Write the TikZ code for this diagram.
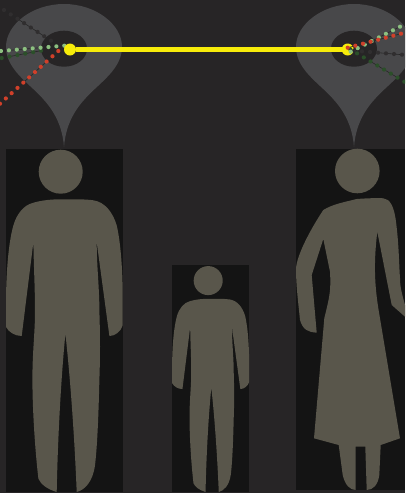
\documentclass[tikz,border=0pt]{standalone}
\usepackage{xcolor}
\usetikzlibrary{positioning, calc}
\definecolor{ground}{HTML}{272526}
\definecolor{pinfill}{HTML}{48484A}
\definecolor{slot}{HTML}{141414}
\definecolor{figure}{HTML}{59564B}
\definecolor{ray}{HTML}{F7EC0A}
\definecolor{redray}{HTML}{D0402A}
\definecolor{lightray}{HTML}{8CC080}
\definecolor{darkray}{HTML}{2B4F29}
\definecolor{greyray}{HTML}{302E2F}
% one dotted sight line: colour, far end, near end, number of gaps
\newcommand{\sightline}[4]{%
  \draw[sight] #2 -- #3;
  \foreach \k in {0,...,#4}{
    \fill[#1] ($#2!\k/#4!#3$) circle [radius=2.1];
  }
}
\begin{document}
\begin{tikzpicture}[
    x=1pt, y=-1pt,
    pinshape/.style={fill=pinfill},
    hole/.style={fill=ground},
    slotbox/.style={fill=slot},
    body/.style={fill=figure},
    sight/.style={draw=black!85, line width=0.6pt},
    hub/.style={circle, fill=ray, minimum size=12pt, inner sep=0pt},
    link/.style={draw=ray, line width=4.4pt},
    pin/.pic={
      \path[pinshape] (0,-44.7) .. controls (32,-44.7) and (58,-24) .. (58,-2)
        .. controls (58,16) and (44,28) .. (30,41)
        .. controls (14,56) and (2,72) .. (0,98.3)
        .. controls (-2,72) and (-14,56) .. (-30,41)
        .. controls (-44,28) and (-58,16) .. (-58,-2)
        .. controls (-58,-24) and (-32,-44.7) .. (0,-44.7) -- cycle;
      \path[hole] (0,0) ellipse [x radius=23, y radius=18];
    },
    person/.pic={
      \path[body] (0,-320.3) circle [radius=22];
      \path[body] (0,-292.7) .. controls (12,-292.7) and (24,-293) .. (32.7,-291.7)
        .. controls (44,-290) and (52,-280) .. (56,-266.7)
        .. controls (60,-250) and (62,-220) .. (62,-196.7)
        -- (62,-166.7) .. controls (60,-160) and (54,-156) .. (48.7,-156)
        -- (36,-250)
        .. controls (36,-225) and (38.7,-205) .. (38.7,-180)
        .. controls (39.5,-155) and (39.5,-135) .. (38.7,-113)
        .. controls (38,-85) and (37,-50) .. (34.3,-26.7)
        .. controls (32,-10) and (24,-2) .. (16,0)
        .. controls (14,-50) and (10,-110) .. (4.7,-158.3)
        .. controls (0,-110) and (-3,-50) .. (-4,0)
        .. controls (-14,-3) and (-20,-8) .. (-22.3,-13.3)
        .. controls (-26,-45) and (-28.3,-85) .. (-28.3,-113.3)
        .. controls (-28.3,-140) and (-25.7,-160) .. (-25.7,-180)
        .. controls (-25.7,-205) and (-27,-225) .. (-27.3,-250)
        -- (-39,-156)
        .. controls (-46,-156) and (-52,-160) .. (-54.7,-165)
        -- (-54.7,-196.7)
        .. controls (-54,-225) and (-52,-250) .. (-47.3,-266.7)
        .. controls (-44,-278) and (-37,-287) .. (-27.3,-289.3)
        .. controls (-18,-292) and (-8,-292.7) .. (0,-292.7) -- cycle;
    }
]
\useasboundingbox (0,0) rectangle (405,493);
\clip (0,0) rectangle (405,493);
\fill[ground] (0,0) rectangle (405,493);

% slots behind the figures
\path[slotbox] (6,149) rectangle (123,492);
\path[slotbox] (172.3,264.7) rectangle (249,492);
\path[slotbox] (296,149) rectangle (405,490);

% pins
\pic at (64,48.7) {pin};
\pic at (354,48.7) {pin};

% figures
\pic at (60.7,492) {person};
\pic[scale=0.66] at (208.2,492) {person};
\path[body] (357.3,171) circle [radius=22.3];
\path[body] (323.3,210) .. controls (333,204) and (345,202) .. (356.7,199)
  .. controls (370,198) and (380,198) .. (383.3,198.3)
  .. controls (390,199) and (394,206) .. (396,221.7)
  .. controls (399,245) and (399,265) .. (400,278.3)
  .. controls (400,287) and (402,294) .. (405,305)
  -- (405,316.7) -- (391.7,305) -- (377.3,231.7)
  .. controls (374,260) and (374,280) .. (378.3,308.3)
  -- (400,438.3) -- (380.7,445) -- (379.3,475)
  .. controls (378,485) and (373,490) .. (366.7,490)
  -- (365.3,446.7) -- (355.7,446.7) -- (355.7,490)
  .. controls (350,490) and (345,485) .. (342.7,475)
  -- (338.7,445) -- (314,438.3) -- (324.3,318.3)
  .. controls (330,295) and (331,290) .. (330,271.7)
  -- (323.3,239) -- (311.7,275) -- (316.7,332.7)
  .. controls (308,332) and (303,330) .. (300,320)
  .. controls (298,300) and (296,285) .. (296,268.3)
  .. controls (297,255) and (310,230) .. (323.3,210) -- cycle;

% sight lines of the left pin
\sightline{greyray}{(4,10)}{(51,40.7)}{7}
\sightline{darkray}{(1.7,58)}{(41,50.7)}{5}
\sightline{lightray}{(1,51)}{(64.3,45.7)}{8}
\sightline{redray}{(0,103.7)}{(58.3,51)}{10}
\node[hub] (eyeL) at (70,49.5) {};
\node[hub] (eyeR) at (347.7,49.5) {};
\draw[link] (eyeL) -- (eyeR);

% sight lines of the right pin
\sightline{greyray}{(402,54.7)}{(354,50.7)}{6}
\sightline{darkray}{(404.3,81.7)}{(350.3,49.3)}{8}
\sightline{lightray}{(400,26.7)}{(350.7,51.7)}{7}
\sightline{redray}{(401,33.7)}{(347.7,47.7)}{7}
\end{tikzpicture}
\end{document}
